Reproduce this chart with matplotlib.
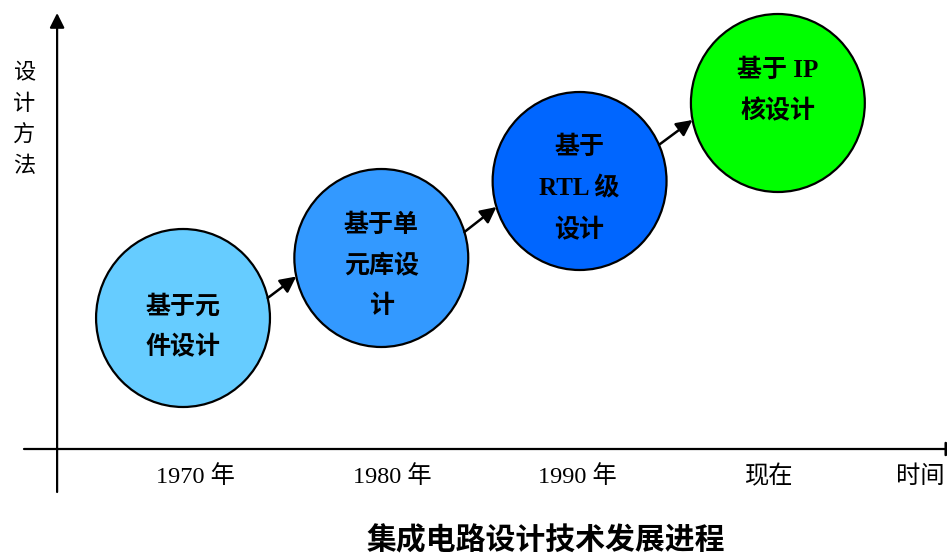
import numpy as np
import matplotlib
matplotlib.use("Agg")
import matplotlib.pyplot as plt
from matplotlib.patches import Ellipse

plt.rcParams['font.family'] = ['Liberation Serif', 'Noto Sans CJK SC', 'DejaVu Sans']

# stages of IC design methodology
stage_labels = ["基于元\n件设计", "基于单\n元库设\n计", "基于\nRTL 级\n设计", "基于 IP\n核设计"]
stage_years = [1970, 1980, 1990, 2000]          # 2000 stands for "现在"
stage_levels = [1.31, 1.91, 2.68, 3.46]         # height above the time axis
stage_colors = ["#66CCFF", "#3399FF", "#0066FF", "#00FF00"]

tick_years = [1970.65, 1980.55, 1989.9, 1999.55, 2007.2]
tick_labels = ["1970 年", "1980 年", "1990 年", "现在", "时间"]

fig = plt.figure(figsize=(9.47, 5.56), dpi=100)
ax = fig.add_axes([0, 0, 1, 1])
ax.set_xlim(1960.77, 2008.53)
ax.set_ylim(-1.07, 4.49)
ax.axis("off")

# axes with arrows
y_axis_x = 1963.65
ax.annotate("", xy=(y_axis_x, 4.36), xytext=(y_axis_x, -0.43),
            arrowprops=dict(arrowstyle="-|>", color="black", lw=1.6,
                            mutation_scale=22, shrinkA=0, shrinkB=0))
ax.annotate("", xy=(2009.2, 0), xytext=(1961.98, 0), annotation_clip=False,
            arrowprops=dict(arrowstyle="-|>", color="black", lw=1.6,
                            mutation_scale=22, shrinkA=0, shrinkB=0))

w, h = 8.77, 1.78
label_dy = [-0.09, -0.08, -0.08, 0.12]
for i, (lab, yr, lv, c) in enumerate(zip(stage_labels, stage_years, stage_levels, stage_colors)):
    ax.add_patch(Ellipse((yr, lv), w, h, facecolor=c, edgecolor="black", lw=1.6, zorder=2))
    ax.text(yr, lv + label_dy[i], lab, ha="center", va="center", fontsize=18,
            fontweight="bold", linespacing=1.9, zorder=3)

# arrows between stages: (angle leaving, angle arriving) in degrees
arrow_angles = [(13, 12), (17, 17), (24, 11)]
for i in range(len(stage_years) - 1):
    a0, a1 = np.deg2rad(arrow_angles[i])
    x0 = stage_years[i] + w / 2 * np.cos(a0)
    y0 = stage_levels[i] + h / 2 * np.sin(a0)
    x1 = stage_years[i + 1] - w / 2 * np.cos(a1)
    y1 = stage_levels[i + 1] - h / 2 * np.sin(a1)
    ax.annotate("", xy=(x1, y1), xytext=(x0, y0),
                arrowprops=dict(arrowstyle="-|>", color="black", lw=1.8,
                                mutation_scale=24, shrinkA=0, shrinkB=0), zorder=4)

for x, t in zip(tick_years, tick_labels):
    ax.text(x, -0.28, t, ha="center", va="center", fontsize=17.5)

ax.text(1961.98, 3.28, "设\n计\n方\n法", ha="center", va="center", fontsize=16, linespacing=1.65)
ax.text(1988.3, -0.92, "集成电路设计技术发展进程", ha="center", va="center",
        fontsize=21.5, fontweight="bold")

fig.savefig("out.png", dpi=100)
